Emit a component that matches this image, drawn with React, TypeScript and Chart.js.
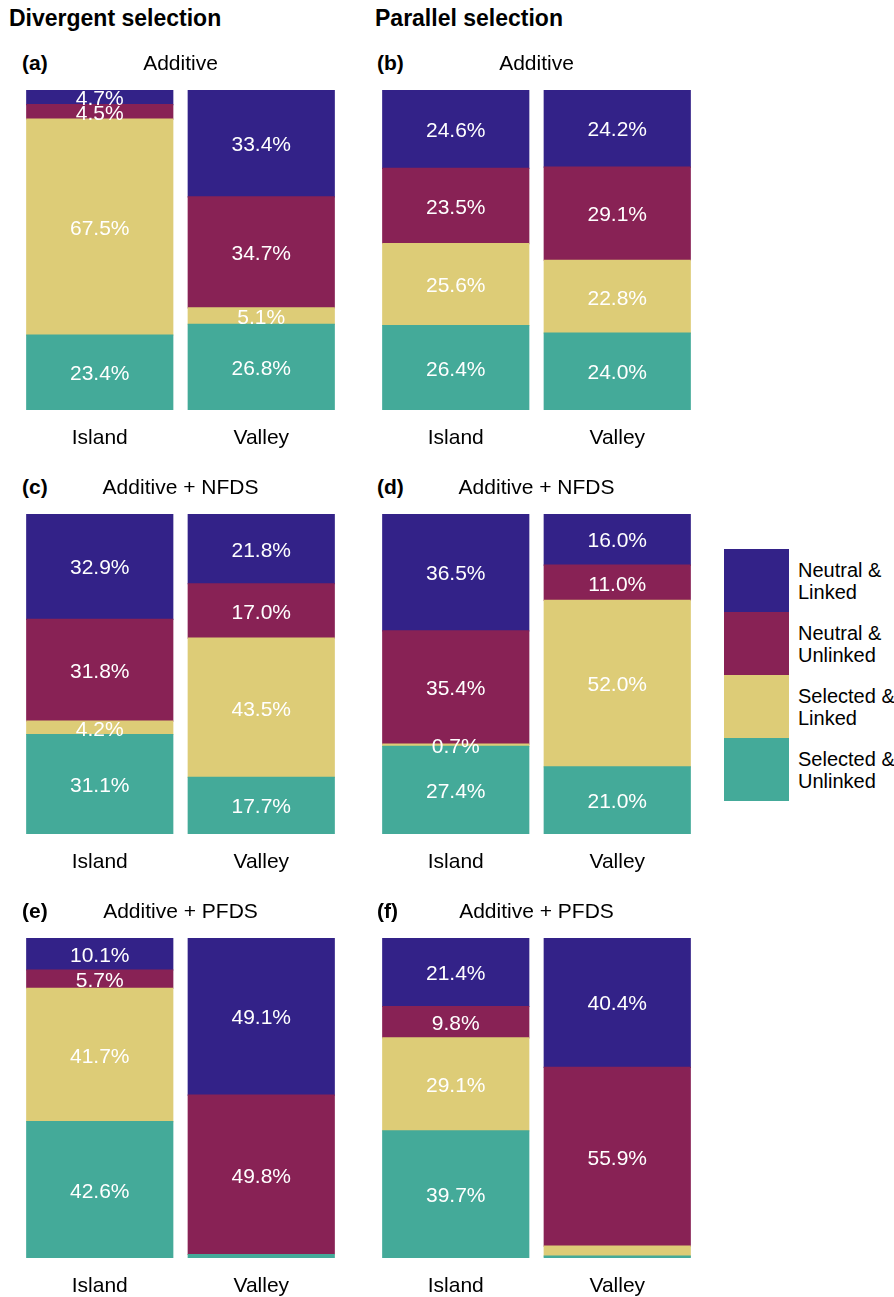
import React, { useEffect, useRef } from "react";
import { Chart, registerables } from "chart.js";

Chart.register(...registerables);

const FONT = "'Liberation Sans', Arial, Helvetica, sans-serif";

const categories = ["Island", "Valley"];
// stacking order, bottom to top
const seriesNames = ["Selected & Unlinked", "Selected & Linked", "Neutral & Unlinked", "Neutral & Linked"];
const seriesColors = ["#44AA99", "#DDCC77", "#882255", "#332288"];
const legendLabels = [["Neutral &", "Linked"], ["Neutral &", "Unlinked"], ["Selected &", "Linked"], ["Selected &", "Unlinked"]];
const legendColors = ["#332288", "#882255", "#DDCC77", "#44AA99"];

const columnTitles = ["Divergent selection", "Parallel selection"];
const panelTags = ["(a)", "(b)", "(c)", "(d)", "(e)", "(f)"];
const panelTitles = ["Additive", "Additive", "Additive + NFDS", "Additive + NFDS", "Additive + PFDS", "Additive + PFDS"];

// values (%) per bar, bottom to top: Selected & Unlinked, Selected & Linked, Neutral & Unlinked, Neutral & Linked
const aIsland = [23.4, 67.5, 4.5, 4.7];
const aValley = [26.8, 5.1, 34.7, 33.4];
const bIsland = [26.4, 25.6, 23.5, 24.6];
const bValley = [24.0, 22.8, 29.1, 24.2];
const cIsland = [31.1, 4.2, 31.8, 32.9];
const cValley = [17.7, 43.5, 17.0, 21.8];
const dIsland = [27.4, 0.7, 35.4, 36.5];
const dValley = [21.0, 52.0, 11.0, 16.0];
const eIsland = [42.6, 41.7, 5.7, 10.1];
const eValley = [1.1, 0.0, 49.8, 49.1];
const fIsland = [39.7, 29.1, 9.8, 21.4];
const fValley = [0.6, 3.1, 55.9, 40.4];

const panelValues = [
  [aIsland, aValley],
  [bIsland, bValley],
  [cIsland, cValley],
  [dIsland, dValley],
  [eIsland, eValley],
  [fIsland, fValley],
];

// segments drawn without a percentage label: "panel-category-seriesIndex"
const unlabeled = ["(e)-Valley-0", "(e)-Valley-1", "(f)-Valley-0", "(f)-Valley-1"];

const COL_LEFT = [19, 375];
const COL_TAG_LEFT = [22, 377];
const ROW_STEP = 424;
const CANVAS_W = 323;
const CANVAS_H = 430;

function Panel({ index }: { index: number }) {
  const ref = useRef<HTMLCanvasElement | null>(null);
  const col = index % 2;
  const row = Math.floor(index / 2);
  const tag = panelTags[index];

  useEffect(() => {
    if (!ref.current) return;
    const [island, valley] = panelValues[index];
    const labelPlugin = {
      id: "segmentLabels",
      afterDatasetsDraw(chart: any) {
        const { ctx, chartArea } = chart;
        ctx.save();
        ctx.beginPath();
        ctx.rect(chartArea.left, chartArea.top, chartArea.right - chartArea.left, chartArea.bottom - chartArea.top);
        ctx.clip();
        ctx.fillStyle = "#ffffff";
        ctx.font = `21px ${FONT}`;
        ctx.textAlign = "center";
        ctx.textBaseline = "middle";
        chart.data.datasets.forEach((ds: any, di: number) => {
          const meta = chart.getDatasetMeta(di);
          meta.data.forEach((el: any, i: number) => {
            if (unlabeled.includes(`${tag}-${categories[i]}-${di}`)) return;
            const v = ds.data[i];
            const p = el.getProps(["x", "y", "base"], true);
            ctx.fillText(`${v.toFixed(1)}%`, p.x, (p.y + p.base) / 2 + 2);
          });
        });
        ctx.restore();
      },
    };
    const chart = new Chart(ref.current, {
      type: "bar",
      data: {
        labels: categories,
        datasets: seriesNames.map((name, si) => ({
          label: name,
          data: [island[si], valley[si]],
          backgroundColor: seriesColors[si],
          borderWidth: 0,
          inflateAmount: 0.6,
          barPercentage: 0.904,
          categoryPercentage: 1,
        })),
      },
      options: {
        responsive: false,
        animation: false,
        events: [],
        layout: { padding: 0 },
        plugins: {
          legend: { display: false },
          tooltip: { enabled: false },
          title: {
            display: true,
            text: panelTitles[index],
            color: "#000",
            font: { family: FONT, size: 21, weight: "normal", lineHeight: 1.2 },
            padding: { top: 12, bottom: 12.8 },
          },
        },
        scales: {
          x: {
            stacked: true,
            grid: { display: false, drawTicks: false },
            border: { display: false },
            ticks: { color: "#000", padding: 16, font: { family: FONT, size: 21 } },
            afterFit: (scale: any) => {
              scale.height = 60;
            },
          },
          y: {
            stacked: true,
            display: false,
            min: 0,
            max: 100,
          },
        },
      },
      plugins: [labelPlugin],
    } as any);
    return () => chart.destroy();
  }, [index]);

  return (
    <>
      <div
        style={{
          position: "absolute",
          left: COL_TAG_LEFT[col],
          top: 50 + ROW_STEP * row,
          font: `bold 21px/25px ${FONT}`,
          color: "#000",
        }}
      >
        {tag}
      </div>
      <canvas
        ref={ref}
        width={CANVAS_W}
        height={CANVAS_H}
        style={{
          position: "absolute",
          left: COL_LEFT[col],
          top: 40 + ROW_STEP * row,
          width: CANVAS_W,
          height: CANVAS_H,
        }}
      />
    </>
  );
}

export default function App() {
  return (
    <div
      style={{
        position: "absolute",
        left: 0,
        top: 0,
        width: 894,
        height: 1297,
        overflow: "hidden",
        background: "#fff",
        fontFamily: FONT,
      }}
    >
      {columnTitles.map((t, i) => (
        <div
          key={t}
          style={{
            position: "absolute",
            left: i === 0 ? 9 : 375,
            top: 5,
            font: `bold 23px/27px ${FONT}`,
            color: "#000",
            whiteSpace: "nowrap",
          }}
        >
          {t}
        </div>
      ))}
      {panelTags.map((_, i) => (
        <Panel key={i} index={i} />
      ))}
      {legendLabels.map((lines, i) => (
        <React.Fragment key={i}>
          <div
            style={{
              position: "absolute",
              left: 724,
              top: 549 + 63 * i,
              width: 65,
              height: 63,
              background: legendColors[i],
            }}
          />
          <div
            style={{
              position: "absolute",
              left: 798,
              top: 549 + 63 * i,
              height: 63,
              display: "flex",
              flexDirection: "column",
              justifyContent: "center",
              font: `20px/22px ${FONT}`,
              color: "#000",
              whiteSpace: "nowrap",
            }}
          >
            {lines.map((l) => (
              <div key={l}>{l}</div>
            ))}
          </div>
        </React.Fragment>
      ))}
    </div>
  );
}
